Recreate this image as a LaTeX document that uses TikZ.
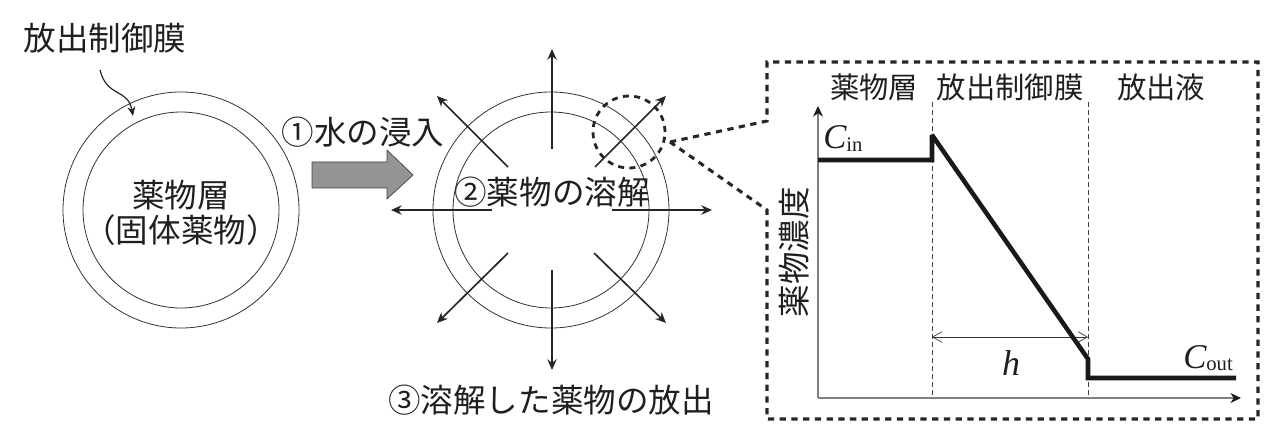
\documentclass[tikz,border=0pt]{standalone}
\usepackage{fontspec}
\usetikzlibrary{arrows.meta}
\newfontfamily\jpfont{Noto Sans CJK JP}
\newfontfamily\latfont{Liberation Serif}
\newcommand{\conc}[1]{{\fontsize{26}{29}\selectfont\latfont\itshape C}\raisebox{-2.2pt}{\fontsize{15.5}{18}\selectfont\latfont #1}}
\tikzset{
  lab/.style={font=\fontsize{24.4}{29}\selectfont\jpfont,text=black!88,inner sep=0pt},
  headlab/.style={font=\fontsize{22}{26}\selectfont\jpfont,text=black!88,inner sep=0pt},
  mathlab/.style={text=black!88,inner sep=0pt},
  ring/.style={circle,draw=black!80,line width=0.6pt,inner sep=0pt},
  outer/.style={ring,minimum size=177pt},
  inner/.style={ring,minimum size=147pt},
  rel/.style={draw=black!85,line width=1.25pt,-{Stealth[length=8pt,width=7pt]}},
  zoomdash/.style={draw=black!85,line width=2.3pt,dash pattern=on 4.7pt off 4.1pt},
  lensdash/.style={draw=black!85,line width=2.1pt,dash pattern=on 4.5pt off 4pt},
  axis/.style={draw=black!50,line width=1.1pt,-{Stealth[length=8pt,width=7.5pt,color=black!90]}},
  guide/.style={draw=black!75,line width=0.6pt,dash pattern=on 3.75pt off 2.25pt},
  curve/.style={draw=black!90,line width=3.4pt,line join=miter,miter limit=3},
}
\begin{document}
\begin{tikzpicture}[x=0.75pt,y=-0.75pt]
\useasboundingbox (0,0) rectangle (1281,442);
% left sphere
\node[outer] (o1) at (181,210) {};
\node[inner] (i1) at (181,210) {};
\node[lab] (mlabel) at (105,38) {放出制御膜};
\node[lab] (core1) at (181,195) {薬物層};
\node[lab] (core2) at (181,230) {（固体薬物）};
\coordinate (ms) at (100,70);
\coordinate (mt) at (133,116);
\draw[draw=black!85,line width=0.9pt,-{Stealth[length=7pt,width=6pt]}] (ms) .. controls (107,98) and (128,88) .. (mt);
% water arrow
\node[lab] (step1) at (363,132) {①水の浸入};
\draw[draw=black!75,line width=0.5pt,fill=black!42] (312,162) -- (387,162) -- (387,150) -- (413,175) -- (387,199) -- (387,188) -- (312,188) -- cycle;
% right sphere
\node[outer] (o2) at (551,210) {};
\node[inner] (i2) at (551,210) {};
\node[lab] (step2) at (552,192) {②薬物の溶解};
\node[lab] (step3) at (551,400) {③溶解した薬物の放出};
\coordinate (as1) at (552,149); \coordinate (ae1) at (552,49);
\coordinate (as2) at (552,270); \coordinate (ae2) at (552,370);
\coordinate (as3) at (492,210); \coordinate (ae3) at (391,210);
\coordinate (as4) at (612,210); \coordinate (ae4) at (712,210);
\coordinate (as5) at (595,167); \coordinate (ae5) at (666,96);
\coordinate (as6) at (508,167); \coordinate (ae6) at (437,96);
\coordinate (as7) at (508,253); \coordinate (ae7) at (437,323);
\coordinate (as8) at (594,253); \coordinate (ae8) at (666,323);
\foreach \k in {1,...,8} {\draw[rel] (as\k) -- (ae\k);}
% zoom callout
\node[circle,lensdash,minimum size=54pt,inner sep=0pt] (lens) at (629,132) {};
\coordinate (ca) at (670,142);
\coordinate (b1) at (767,121);
\coordinate (b2) at (767,210);
\coordinate (tl) at (767,62);
\coordinate (tr) at (1258,62);
\coordinate (br) at (1258,419);
\coordinate (bl) at (767,419);
\draw[zoomdash] (ca) -- (b1) -- (tl) -- (tr) -- (br) -- (bl) -- (b2) -- (ca);
% graph
\coordinate (org) at (818,398);
\coordinate (yt) at (818,106);
\coordinate (xr) at (1241,398);
\draw[axis] (org) -- (yt);
\draw[axis] (org) -- (xr);
\coordinate (g1t) at (932,102); \coordinate (g1b) at (932,398);
\coordinate (g2t) at (1088,102); \coordinate (g2b) at (1088,398);
\draw[guide] (g1t) -- (g1b);
\draw[guide] (g2t) -- (g2b);
\coordinate (h1) at (932,337); \coordinate (h2) at (1088,337);
\draw[draw=black!80,line width=0.5pt,{Straight Barb[length=7pt,width=8pt]}-{Straight Barb[length=7pt,width=8pt]}] (h1) -- (h2);
\coordinate (p0) at (818,160); \coordinate (p1) at (932,160); \coordinate (p2) at (932,135);
\coordinate (p3) at (1088,359); \coordinate (p4) at (1088,378); \coordinate (p5) at (1236,378);
\draw[curve] (p0) -- (p1) -- (p2) -- (p3) -- (p4) -- (p5);
\node[headlab] (t1) at (874,87) {薬物層};
\node[headlab] (t2) at (1010,87) {放出制御膜};
\node[headlab] (t3) at (1161,87) {放出液};
\node[lab,rotate=90] (ylab) at (794,252) {薬物濃度};
\node[mathlab,anchor=base west] (cin) at (823,149) {\conc{in}};
\node[mathlab,anchor=base west] (cout) at (1183,368) {\conc{out}};
\node[mathlab,anchor=base,font=\fontsize{27}{30}\selectfont\latfont\itshape] (hl) at (1011,375) {h};
\end{tikzpicture}
\end{document}
